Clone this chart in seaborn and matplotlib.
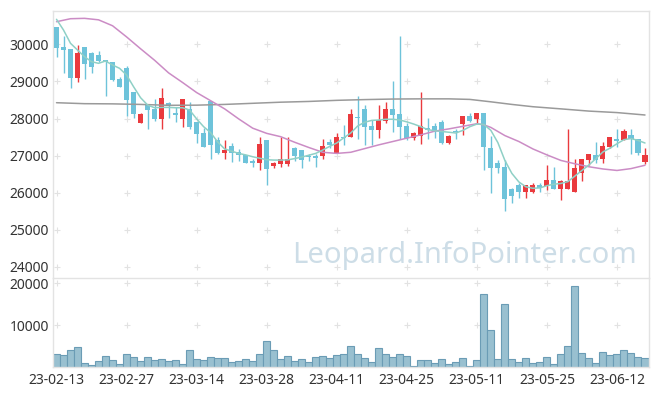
import matplotlib
matplotlib.use('Agg')
import matplotlib.pyplot as plt
import numpy as np
import pandas as pd
import seaborn as sns

# trading days (KRX, holidays removed)
holidays = ['2023-03-01', '2023-05-01', '2023-05-05', '2023-05-29', '2023-06-06']
dates = pd.bdate_range('2023-02-13', '2023-06-16', freq='C', holidays=holidays)

opens = [30470, 29930, 29870, 29100, 29930, 29770, 29710, 29580, 29520, 29070,
         29370, 28710, 27890, 28360, 28250, 28000, 28410, 28140, 28000, 28260,
         27910, 27620, 28470, 27420, 27080, 27270, 27110, 27030, 26860, 26790,
         27420, 26720, 26770, 26770, 27210, 27150, 26990, 26990, 26990, 27380,
         27080, 27490, 27490, 28030, 28260, 27800, 27690, 27940, 28260, 28120,
         27800, 27480, 27530, 27740, 27800, 27900, 27350, 27660, 27840, 28070,
         28000, 28140, 27200, 26790, 26690, 26100, 26210, 26030, 26030, 26210,
         26190, 26340, 26090, 26090, 26030, 26540, 26880, 27020, 26900, 27240,
         27450, 27420, 27560, 27440, 26840]
highs = [30480, 30220, 29880, 29980, 29930, 29780, 29820, 29580, 29530, 29110,
         29420, 28710, 28140, 28380, 28520, 28810, 28450, 28300, 28530, 28450,
         27910, 27750, 28470, 27510, 27420, 27330, 27170, 27030, 26900, 27490,
         27420, 26840, 27490, 27490, 27230, 27160, 27040, 27040, 27440, 27440,
         27600, 27820, 28250, 28610, 28360, 27960, 28360, 28450, 29010, 30220,
         27870, 27650, 28720, 28010, 27870, 27950, 27560, 27710, 28070, 28140,
         28160, 28160, 27530, 26880, 26880, 26120, 26270, 26210, 26260, 26260,
         26750, 26690, 26340, 27710, 26900, 26900, 27040, 27360, 27360, 27490,
         27710, 27720, 27710, 27440, 27200]
lows = [29650, 29220, 28810, 28990, 29060, 29220, 29520, 28610, 29020, 28850,
        28070, 28010, 27890, 27710, 27940, 27710, 28010, 27910, 27780, 27710,
        27350, 27240, 26900, 27040, 26900, 26840, 26850, 26790, 26700, 26610,
        26210, 26660, 26700, 26720, 26860, 26660, 26860, 26690, 26900, 27200,
        27080, 27290, 27490, 27440, 27290, 27290, 27480, 27870, 27650, 27440,
        27420, 27420, 27300, 27440, 27480, 27300, 27300, 27440, 27560, 27910,
        27870, 26610, 25990, 26520, 25520, 25720, 25850, 25850, 25990, 26030,
        26070, 26090, 25800, 26090, 26030, 26320, 26750, 26790, 26810, 27200,
        27220, 27420, 27040, 27020, 26770]
closes = [29910, 29860, 29100, 29770, 29460, 29400, 29560, 29520, 29040, 28860,
          28500, 28130, 28120, 28230, 28000, 28550, 28340, 28100, 28530, 27780,
          27590, 27240, 27290, 27080, 27160, 27080, 27020, 26790, 26790, 27310,
          26630, 26790, 26900, 26900, 26990, 26880, 26960, 26940, 27260, 27290,
          27510, 27470, 28120, 28010, 27780, 27690, 27960, 28260, 28100, 27780,
          27480, 27600, 27800, 27700, 27660, 27350, 27530, 27630, 28070, 27940,
          28140, 27240, 26670, 26670, 25830, 25910, 26030, 26210, 26210, 26120,
          26340, 26090, 26320, 26320, 26660, 26900, 27040, 26880, 27260, 27490,
          27400, 27660, 27440, 27080, 27020]
volume = [3030, 2780, 3980, 4700, 880, 400, 1350, 2550, 1590, 640,
          3030, 2310, 1350, 2310, 1590, 1830, 1350, 1590, 640, 3980,
          1830, 1590, 2310, 2070, 2070, 1110, 1350, 1830, 1350, 3030,
          6130, 3980, 1830, 2550, 1350, 1830, 1110, 2310, 2550, 2070,
          2780, 3030, 4930, 3030, 2070, 1110, 4460, 3030, 2310, 3030,
          2550, 160, 1590, 1590, 880, 1830, 640, 1110, 2070, 160,
          1590, 17350, 8750, 1830, 14960, 1830, 1110, 2070, 880, 1110,
          2310, 640, 3030, 4930, 19260, 3260, 2070, 880, 3500, 2780,
          3030, 3980, 3260, 2310, 2070]

# moving averages
ma_short = [30674, 30385, 30027, 29846, 29666, 29531, 29488, 29550, 29442, 29353,
            29173, 28857, 28561, 28364, 28290, 28300, 28300, 28290, 28290, 28229,
            27990, 27780, 27620, 27370, 27180, 27120, 27060, 27020, 26970, 26930,
            26890, 26880, 26880, 26885, 26920, 26960, 27010, 27060, 27150, 27250,
            27340, 27480, 27610, 27800, 27900, 27950, 27960, 27980, 27980, 27960,
            27910, 27850, 27780, 27700, 27670, 27650, 27630, 27610, 27680, 27780,
            27850, 27840, 27680, 27350, 26870, 26520, 26290, 26160, 26120, 26130,
            26190, 26230, 26250, 26300, 26450, 26600, 26750, 26920, 27100, 27200,
            27320, 27430, 27460, 27410, 27340]
ma_mid_x = [0, 2, 4, 6, 8, 10, 12, 14, 16, 18, 20, 22, 24, 26, 28, 30, 32, 34, 36, 38, 40,
            42, 44, 46, 48, 50, 52, 54, 56, 58, 60, 61, 62, 64, 66, 68, 70, 72, 74, 76,
            78, 80, 82, 84]
ma_mid = [30609, 30690, 30700, 30660, 30500, 30200, 29880, 29570, 29230, 28970, 28700,
          28480, 28260, 27990, 27740, 27600, 27510, 27360, 27220, 27090, 27060,
          27090, 27190, 27290, 27380, 27470, 27560, 27660, 27720, 27790, 27860, 27830,
          27760, 27540, 27380, 27180, 27020, 26870, 26780, 26700, 26640, 26600, 26650,
          26740]
ma_long_x = [0, 4, 8, 12, 16, 20, 24, 28, 32, 36, 40, 44, 48, 52, 56, 59, 62, 65, 68,
             72, 76, 80, 84]
ma_long = [28426, 28400, 28395, 28380, 28356, 28360, 28380, 28410, 28440, 28460, 28490,
           28510, 28525, 28530, 28530, 28515, 28450, 28380, 28318, 28260, 28200, 28160,
           28095]

tick_idx = list(range(0, 85, 10))
tick_labels = [dates[i].strftime('%y-%m-%d') for i in tick_idx]

sns.set_style('white')
plt.rcParams['font.family'] = ['Noto Sans', 'DejaVu Sans']

UP = '#ea3a3e'
DOWN = '#6ec3da'
SPINE = '#e3e3e3'
TXT = '#333333'

fig = plt.figure(figsize=(6.57, 3.96), dpi=100)
ax = fig.add_axes([53 / 657, 1 - 277.5 / 396, 595.5 / 657, 266.8 / 396])
ax2 = fig.add_axes([53 / 657, 1 - 367 / 396, 595.5 / 657, 89 / 396])

idx = np.arange(len(opens))
o = np.array(opens); c = np.array(closes)
h = np.array(highs); l = np.array(lows)
cols = np.where(c > o, UP, DOWN)

# grid crosses
gx, gy = np.meshgrid(tick_idx, np.arange(24000, 30001, 1000))
ax.scatter(gx.ravel(), gy.ravel(), marker='+', s=14, color='#e2e2e2', linewidths=0.8, zorder=0)

ax.vlines(idx, l, h, colors=cols, linewidth=1.0, zorder=2)
ax.bar(idx, np.maximum(np.abs(c - o), 25), bottom=np.minimum(o, c), width=0.72,
       color=cols, linewidth=0, zorder=3)

sns.lineplot(x=ma_long_x, y=ma_long, ax=ax, color='#9a9a9a', linewidth=1.1, zorder=4)
sns.lineplot(x=ma_mid_x, y=ma_mid, ax=ax, color='#cb8cc5', linewidth=1.1, zorder=4)
sns.lineplot(x=idx, y=ma_short, ax=ax, color='#8fd0c6', linewidth=1.1, zorder=4)

ax.text(0.981, 0.054, 'Leopard.InfoPointer.com', transform=ax.transAxes, ha='right',
        va='baseline', fontsize=21, color='#c5d8e3', alpha=0.85, zorder=1)

ax.set_xlim(-0.5, 84.5)
ax.set_ylim(23715, 30906)
ax.set_yticks(np.arange(24000, 30001, 1000))
ax.set_xticks([])
ax.set_ylabel('')
ax.tick_params(axis='y', length=0, pad=3, labelsize=10, labelcolor=TXT)

# volume
gx2, gy2 = np.meshgrid(tick_idx, [10000, 20000])
ax2.scatter(gx2.ravel(), gy2.ravel(), marker='+', s=14, color='#e2e2e2', linewidths=0.8, zorder=0)
sns.barplot(x=idx, y=volume, ax=ax2, native_scale=True, width=1.0, color='#99c0d0',
            edgecolor='#6b9cb5', linewidth=0.8, saturation=1, errorbar=None, zorder=2)
ax2.set_xlim(-0.5, 84.5)
ax2.set_ylim(0, 21240)
ax2.set_yticks([10000, 20000])
ax2.set_xticks(tick_idx)
ax2.set_xticklabels(tick_labels)
ax2.set_xlabel('')
ax2.set_ylabel('')
ax2.tick_params(axis='both', length=0, labelsize=10, labelcolor=TXT)
ax2.tick_params(axis='x', pad=4)
ax2.tick_params(axis='y', pad=3)

for a in (ax, ax2):
    for s in a.spines.values():
        s.set_color(SPINE)
        s.set_linewidth(1.0)
ax.spines['bottom'].set_visible(False)

fig.savefig('out.png', dpi=100)
